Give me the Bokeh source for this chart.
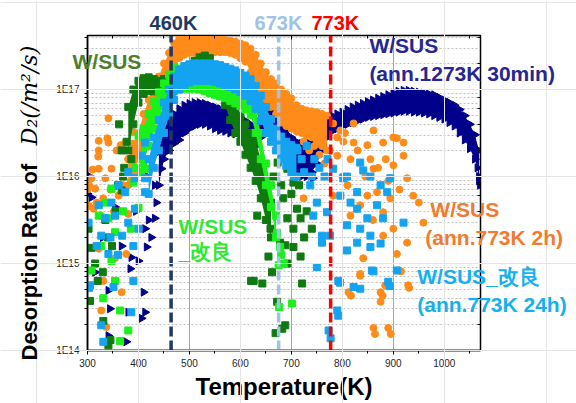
import numpy as np
from bokeh.plotting import figure
from bokeh.models import (Label, LinearAxis, LogAxis, CustomJSTickFormatter,
                          SingleIntervalTicker, LogTicker, Range1d)
from bokeh.embed import file_html
from bokeh.resources import INLINE

# ---------------- data: temperature (K), log10 of D2 desorption rate (/m2/s) -------------
# dense bands: (T, upper edge, lower edge)
navy_band = [(440,16.35,15.9),(450,16.55,16.2),(460,16.66,16.3),(470,16.72,16.38),(480,16.78,16.42),
             (490,16.82,16.5),(500,16.84,16.55),(510,16.85,16.58),(520,16.85,16.6),(530,16.84,16.6),
             (540,16.82,16.58),(550,16.8,16.55),(560,16.78,16.53),(570,16.76,16.52),(580,16.74,16.5),
             (590,16.72,16.49),(600,16.68,16.46),(610,16.64,16.44),(620,16.6,16.4),(630,16.62,16.35),
             (640,16.75,16.45),(650,16.85,16.6),(660,16.88,16.62),(670,16.82,16.58),(680,16.7,16.45),
             (690,16.58,16.3),(700,16.45,16.15),(710,16.4,16.05),(720,16.38,16.0),(730,16.4,16.0),
             (740,16.45,16.05),(750,16.52,16.15),(760,16.6,16.3),(770,16.66,16.45),(780,16.7,16.52),
             (790,16.72,16.55),(800,16.74,16.58),(810,16.77,16.6),(820,16.8,16.62),(830,16.82,16.64),
             (840,16.84,16.66),(850,16.86,16.68),(860,16.88,16.69),(870,16.9,16.7),(880,16.92,16.71),
             (890,16.94,16.72),(900,16.96,16.73),(910,16.98,16.74),(920,16.99,16.75),(930,16.99,16.75),
             (940,16.98,16.74),(950,16.97,16.74),(960,16.96,16.73),(970,16.95,16.72),(980,16.94,16.7),
             (990,16.91,16.68),(1000,16.88,16.66),(1010,16.85,16.62),(1020,16.82,16.58),(1030,16.77,16.5),
             (1040,16.7,16.42),(1050,16.6,16.32),(1060,16.48,16.2),(1068,16.3,16.0)]
navy_pts = [(300,15.8),(305,16.0),(308,15.76),(315,14.9),(330,15.3),(341,14.69),(341,14.17),(344,14.48),
            (354,15.65),(360,15.9),(367,15.2),(376,14.1),(380,14.44),(384,14.94),(386,15.07),(395,15.6),
            (400,15.03),(406,14.37),(410,14.67),(413,14.44),(413,15.4),(416,15.19),(418,16.0),(420,15.5),
            (425,15.3),(428,16.1),(432,15.52),(432,15.9),(435,15.7),(439,16.28),(445,16.09),(452,16.39),
            (459,16.47),(700,16.3),(712,16.2),(728,16.05),(742,15.98),(1065,16.1),(1068,15.95),(1070,15.9)]

orange_band = [(380,16.2,15.9),(390,16.38,16.05),(400,16.5,16.2),(410,16.72,16.35),(420,16.88,16.5),
               (430,17.05,16.65),(440,17.15,16.8),(450,17.3,16.95),(460,17.42,17.12),(470,17.53,17.3),
               (480,17.58,17.36),(490,17.61,17.4),(500,17.63,17.42),(510,17.64,17.42),(520,17.62,17.42),
               (530,17.61,17.42),(540,17.6,17.42),(550,17.59,17.43),(560,17.58,17.43),(570,17.57,17.43),
               (580,17.56,17.42),(590,17.55,17.4),(600,17.53,17.36),(610,17.51,17.32),(620,17.47,17.2),
               (630,17.4,17.08),(640,17.3,16.98),(650,17.2,16.88),(660,17.12,16.8),(670,17.07,16.72),
               (680,17.0,16.62),(690,16.95,16.58),(700,16.9,16.55),(710,16.82,16.52),(720,16.78,16.5),
               (730,16.76,16.47),(740,16.75,16.45),(750,16.74,16.4),(760,16.72,16.35),(770,16.7,16.3)]
orange_pts = [(300,15.85),(303,15.9),(303,15.66),(308,15.98),(310,16.08),(312,15.63),(315,15.86),(318,15.7),
              (321,16.23),(322,16.3),(322,16.09),(322,16.41),(322,15.17),(327,15.55),(327,14.46),(331,15.75),
              (331,14.8),(335,15.98),(337,14.27),(339,16.44),(341,16.39),(341,16.67),(345,15.85),(347,16.09),
              (352,15.6),(354,15.06),(357,16.3),(361,15.78),(365,16.36),(367,14.67),(370,15.9),(374,16.39),
              (376,15.11),(380,16.2),(380,15.57),(385,15.95),(390,16.51),(393,16.32),
              (724,15.75),(724,16.4),(735,16.3),(745,16.35),(755,16.25),(765,16.15),(775,16.3),(782,16.61),
              (782,15.78),(790,16.24),(790,16.45),(796,16.53),(800,16.0),(802,16.4),(805,16.5),(810,15.9),
              (812,14.67),(816,16.2),(816,15.55),(817,14.63),(822,16.61),(822,16.39),(830,16.3),(835,15.67),
              (835,14.86),(835,14.88),(841,15.06),(845,16.0),(849,16.36),(849,15.78),(855,16.2),(860,15.5),
              (861,16.53),(861,16.09),(861,14.26),(864,14.19),(868,15.82),(870,16.1),(875,14.67),(875,14.56),
              (879,14.63),(880,16.39),(880,15.59),(880,15.32),(884,14.75),(885,16.2),(890,14.26),(890,15.95),
              (894,15.75),(895,14.19),(900,16.45),(900,16.13),(900,15.4),(907,16.44),(907,15.11),(910,14.92),
              (912,15.85),(915,14.91),(920,16.39),(920,16.24),(927,15.98),(927,15.24),(929,14.75),(931,14.72),
              (939,15.78),(950,15.7),(959,15.47)]

dkgreen_band = [(380,16.8,16.3),(390,17.0,16.6),(400,17.1,16.85),(410,17.13,16.95),(420,17.14,16.98),
                (430,17.12,16.98),(440,17.1,16.97),(450,17.12,17.0),(460,17.15,17.02),(470,17.18,17.03),
                (480,17.2,17.05),(490,17.22,17.07),(500,17.27,17.08),(510,17.33,17.12),(520,17.37,17.18),
                (530,17.39,17.2),(540,17.36,17.18),(550,17.28,17.08),(560,17.15,16.95),(570,17.0,16.82),
                (580,16.88,16.65),(590,16.78,16.5),(600,16.7,16.4),(610,16.6,16.25),(620,16.5,16.1),
                (630,16.4,15.95),(640,16.2,15.75),(650,15.95,15.5),(660,15.7,15.3)]
dkgreen_pts = [(302,15.4),(305,14.57),(308,15.18),(315,15.0),(320,14.8),(330,14.9),(331,14.34),(335,15.5),
               (340,15.3),(341,14.06),(345,14.12),(348,15.2),(355,15.6),(360,15.9),(362,16.6),(367,15.84),
               (367,16.3),(370,16.0),(372,16.1),(377,16.4),(386,16.2),
               (621,14.8),(626,14.8),(633,15.55),(643,14.77),(645,15.75),(655,15.08),(659,15.4),(662,14.9),
               (665,16.0),(669,14.2),(672,14.56),(673,16.16),(678,15.24),(680,15.9),(682,14.25),(684,15.75),
               (688,15.21),(688,14.29),(692,16.09),(692,15.52),(692,15.0),(695,16.2),(700,15.8),(704,15.93),
               (704,15.4),(704,15.19),(711,15.63),(715,15.9),(718,15.52),(718,15.08),(721,14.77),(725,15.3),
               (730,15.6),(740,15.4)]

green_band = [(405,16.45,16.05),(410,16.55,16.15),(420,16.72,16.35),(430,16.86,16.55),(440,16.97,16.7),
              (450,17.07,16.82),(460,17.17,16.92),(470,17.26,16.98),(480,17.24,17.0),(490,17.2,17.01),
              (500,17.16,17.01),(510,17.14,17.01),(520,17.13,17.0),(530,17.12,16.98),(540,17.1,16.96),
              (550,17.08,16.94),(560,17.06,16.92),(570,17.04,16.9),(580,17.01,16.87),(590,16.99,16.84),
              (600,16.96,16.81),(610,16.92,16.77),(620,16.87,16.71),(630,16.75,16.5),(640,16.5,16.2),
              (650,16.15,15.9),(660,15.9,15.65),(670,15.55,15.3)]
green_pts = [(308,14.92),(322,15.55),(327,15.2),(331,14.6),(335,15.7),(341,15.52),(347,15.86),(347,15.03),
             (354,15.36),(354,14.8),(364,14.46),(364,14.11),(370,15.6),(380,14.23),(385,15.4),(390,15.93),
             (395,16.1),(400,15.64),(400,16.47),(410,16.2),(415,16.09),
             (672,15.35),(675,14.98),(676,14.5),(678,15.19),(680,15.1),(685,15.0),(701,14.54)]

ltblue_band = [(420,16.2,15.8),(430,16.45,16.1),(440,16.65,16.3),(450,16.85,16.5),(460,17.0,16.7),
               (470,17.15,16.88),(480,17.23,17.0),(490,17.27,17.05),(500,17.29,17.08),(510,17.3,17.1),
               (520,17.3,17.1),(530,17.3,17.1),(540,17.3,17.1),(550,17.29,17.09),(560,17.28,17.07),
               (570,17.26,17.05),(580,17.24,17.03),(590,17.22,17.0),(600,17.19,16.97),(610,17.16,16.93),
               (620,17.12,16.87),(630,17.04,16.78),(640,16.93,16.64),(650,16.8,16.5),(660,16.66,16.4),
               (670,16.55,16.3),(680,16.46,16.2),(690,16.4,16.12),(700,16.36,16.05),(710,16.33,16.0)]
ltblue_pts = [(302,15.47),(303,14.72),(305,14.75),(318,15.2),(322,15.67),(327,15.32),(327,14.29),(331,14.1),
              (335,15.52),(341,15.11),(345,15.3),(347,15.7),(351,14.73),(354,15.55),(360,15.1),(361,15.9),
              (368,15.32),(374,15.82),(380,16.05),(380,15.47),(386,14.44),(390,14.8),(390,15.2),(393,15.98),
              (393,15.63),(400,15.4),(406,16.24),(413,16.39),(413,15.82),(413,15.98),
              (700,16.1),(705,16.0),(712,16.3),(720,16.2),(725,16.05),(730,16.35),(737,15.9),(740,16.0),
              (743,15.55),(745,16.2),(750,15.7),(750,14.96),(755,16.1),(760,15.32),(760,15.24),(765,16.0),
              (770,15.59),(771,16.2),(773,14.23),(776,15.32),(777,14.14),(782,16.09),(790,14.46),(792,14.8),
              (792,14.4),(795,14.78),(796,15.78),(802,15.98),(809,15.44),(809,16.0),(809,15.15),(816,15.7),
              (822,14.73),(829,15.63),(829,15.82),(829,15.24),(835,16.16),(835,15.4),(835,14.71),(841,16.07),
              (849,15.52),(855,16.0),(855,15.32),(855,15.19),(858,14.92),(861,14.91),(868,15.67),(875,15.9),
              (875,15.23),(880,15.52),(888,15.82),(890,14.79),(893,14.74),(894,15.98),(907,14.92),(920,15.47)]

# marked temperatures (K) and their labels
vline_T = [464, 675, 777]
vline_labels = ["460K", "673K", "773K"]
vline_colors = ["#1F3864", "#9DC3E6", "#FF0000"]

x_lo, x_hi = 300, 1071
y_lo, y_hi = 1e14, 4.18e17

W, H = 576, 403
BL, BR, BT, BB = 87, 96, 35, 53

p = figure(width=W, height=H, x_range=Range1d(x_lo, x_hi), y_range=Range1d(y_lo, y_hi),
           y_axis_type="log", output_backend="svg", toolbar_location=None,
           min_border_left=BL, min_border_right=BR, min_border_top=BT, min_border_bottom=BB)
p.background_fill_color = "white"
p.border_fill_color = "white"
p.outline_line_color = "black"
p.outline_line_width = 1.5

p.xaxis.ticker = SingleIntervalTicker(interval=100, num_minor_ticks=2)
p.xgrid.ticker = SingleIntervalTicker(interval=100, num_minor_ticks=2)
p.xgrid.grid_line_color = "#A6A6A6"
p.ygrid.grid_line_color = "#A6A6A6"
p.ygrid.minor_grid_line_color = "#BFBFBF"
p.ygrid.minor_grid_line_dash = "2 2"

p.yaxis.formatter = CustomJSTickFormatter(code="return '1E' + Math.round(Math.log10(tick));")
for ax in (p.xaxis[0], p.yaxis[0]):
    ax.axis_line_color = "black"
    ax.axis_line_width = 1.5
    ax.major_tick_line_color = "black"
    ax.minor_tick_line_color = "black"
    ax.major_tick_out = 4
    ax.major_tick_in = 0
    ax.minor_tick_out = 3
    ax.minor_tick_in = 0
    ax.major_label_text_font = "Liberation Sans"
    ax.major_label_text_font_size = "10px"
    ax.major_label_text_color = "#262626"
    ax.major_label_standoff = 4

p.xaxis.axis_label = "Temperature(K)"
p.xaxis.axis_label_text_font = "Liberation Sans"
p.xaxis.axis_label_text_font_style = "bold"
p.xaxis.axis_label_text_font_size = "24px"
p.xaxis.axis_label_text_color = "black"
p.xaxis.axis_label_standoff = 3

blank = CustomJSTickFormatter(code="return '';")
top_ax = LinearAxis(ticker=SingleIntervalTicker(interval=100, num_minor_ticks=2), formatter=blank)
right_ax = LogAxis(ticker=LogTicker(), formatter=blank)
for ax in (top_ax, right_ax):
    ax.axis_line_color = "black"
    ax.major_tick_out = 0
    ax.major_tick_in = 4
    ax.minor_tick_out = 0
    ax.minor_tick_in = 3
p.add_layout(top_ax, "above")
p.add_layout(right_ax, "right")

series = [
    (navy_band, navy_pts, "#00008B", "triangle", 8),
    (orange_band, orange_pts, "#FF8C1A", "circle", 7),
    (dkgreen_band, dkgreen_pts, "#0F7A0F", "square", 7),
    (green_band, green_pts, "#1AF01A", "square", 7),
    (ltblue_band, ltblue_pts, "#14A3F0", "square", 7),
]
for band, pts, col, mk, sz in series:
    bt = [b[0] for b in band]
    hi = [10 ** b[1] for b in band]
    lo = [10 ** b[2] for b in band]
    p.varea(x=bt, y1=lo, y2=hi, fill_color=col)
    ang = -np.pi / 2 if mk == "triangle" else 0.0
    p.scatter(bt + bt, hi + lo, marker=mk, size=sz, angle=ang, fill_color=col, line_color=col)
    p.scatter([q[0] for q in pts], [10 ** q[1] for q in pts], marker=mk, size=sz, angle=ang,
              fill_color=col, line_color=col)

p.segment(x0=vline_T, y0=[y_lo] * 3, x1=vline_T, y1=[y_hi] * 3, line_color=vline_colors,
          line_width=3.5, line_dash="10 4")

# ---- transparent overlay covering the whole canvas, for texts that cross the frame edge ----
kx = (x_hi - x_lo) / (W - BL - BR)
ly_lo, ly_hi = np.log10(y_lo), np.log10(y_hi)
ky = (ly_hi - ly_lo) / (H - BT - BB)
ov = figure(width=W, height=H,
            x_range=Range1d(x_lo - BL * kx, x_hi + BR * kx),
            y_range=Range1d(10 ** (ly_lo - BB * ky), 10 ** (ly_hi + BT * ky)),
            y_axis_type="log", output_backend="svg", toolbar_location=None,
            x_axis_location=None, y_axis_location=None, min_border=0,
            min_border_left=0, min_border_right=0, min_border_top=0, min_border_bottom=0,
            background_fill_color=None, border_fill_color=None, outline_line_color=None)
ov.styles = {"position": "absolute", "top": "0px", "left": "0px"}


def lab(x, logy, text, color, size="21px", align="left", font="Liberation Sans", style="bold", angle=0.0):
    ov.add_layout(Label(x=x, y=10 ** logy, text=text, text_color=color, text_font=font,
                        text_font_size=size, text_font_style=style, text_align=align,
                        text_baseline="middle", angle=angle))


for s, c, xc in zip(vline_labels, vline_colors, [468.6, 674.6, 786.3]):
    lab(xc, 17.77, s, c, size="20px", align="center")

lab(270.6, 17.322, "W/SUS", "#4E7D2A")
lab(853, 17.506, "W/SUS", "#262692")
lab(853, 17.184, "(ann.1273K 30min)", "#262692")
lab(478.5, 15.425, "W/SUS", "#2EEA2E")
lab(478.5, 15.138, "_改良", "#2EEA2E")
lab(972.6, 15.626, "W/SUS", "#F27B2F")
lab(962.8, 15.30, "(ann.773K 2h)", "#F27B2F")
lab(947, 14.851, "W/SUS_改良", "#16B0EC")
lab(947, 14.529, "(ann.773K 24h)", "#16B0EC")

# rotated y-axis title in two fonts
lab(186.2, 13.885, "Desorption Rate of ", "black", size="22px", angle=np.pi / 2)
lab(186.2, 16.36, "D₂(/m²/s)", "black", size="22px", font="DejaVu Serif",
    style="italic", angle=np.pi / 2)

open("out.html", "w").write(file_html([p, ov], INLINE))
